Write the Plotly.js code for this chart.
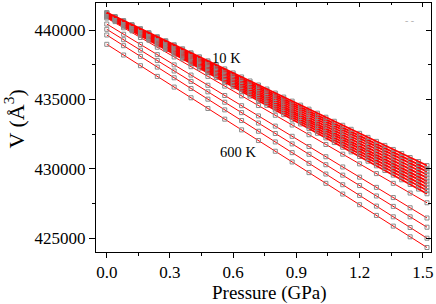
<!DOCTYPE html>
<html>
<head>
<meta charset="utf-8">
<script src="https://cdn.plot.ly/plotly-3.0.1.min.js"></script>
<style>html,body{margin:0;padding:0;background:#fff;}#chart{width:436px;height:304px;}</style>
</head>
<body>
<div id="chart"></div>
<script>
// Pressure grids (GPa)
var P_band = [0,0.04,0.08,0.12,0.16,0.20,0.24,0.28,0.32,0.36,0.40,0.44,0.48,0.52,0.56,0.60,0.64,0.68,0.72,0.76,0.80,0.84,0.88,0.92,0.96,1.00,1.04,1.08,1.12,1.16,1.20,1.24,1.28,1.32,1.36,1.40,1.44,1.48,1.52];
var P_sep = [0,0.08,0.16,0.24,0.32,0.40,0.48,0.56,0.64,0.72,0.80,0.88,0.96,1.04,1.12,1.20,1.28,1.36,1.44,1.52];

// Volumes (Å^3), low-temperature isotherms (dense band)
var V_10K  = [441260,440970,440680,440390,440100,439810,439520,439230,438940,438650,438360,438070,437780,437490,437200,436910,436620,436330,436040,435750,435460,435170,434880,434590,434300,434010,433720,433430,433140,432850,432560,432270,431980,431690,431400,431110,430820,430530,430240];
var V_40K  = [441230,440935,440640,440345,440050,439755,439460,439165,438870,438575,438280,437985,437690,437395,437100,436805,436510,436215,435920,435625,435330,435035,434740,434445,434150,433855,433560,433265,432970,432675,432380,432085,431790,431495,431200,430905,430610,430315,430020];
var V_70K  = [441200,440900,440600,440300,440000,439700,439400,439100,438800,438500,438200,437900,437600,437300,437000,436700,436400,436100,435800,435500,435200,434900,434600,434300,434000,433700,433400,433100,432800,432500,432200,431900,431600,431300,431000,430700,430400,430100,429800];
var V_100K = [441170,440865,440560,440255,439950,439645,439340,439035,438730,438425,438120,437815,437510,437205,436900,436595,436290,435985,435680,435375,435070,434765,434460,434155,433850,433545,433240,432935,432630,432325,432020,431715,431410,431105,430800,430495,430190,429885,429580];
var V_140K = [441130,440820,440510,440200,439890,439580,439270,438960,438650,438340,438030,437720,437410,437100,436790,436480,436170,435860,435550,435240,434930,434620,434310,434000,433690,433380,433070,432760,432450,432140,431830,431520,431210,430900,430590,430280,429970,429660,429350];
var V_180K = [441090,440775,440460,440145,439830,439515,439200,438885,438570,438255,437940,437625,437310,436995,436680,436365,436050,435735,435420,435105,434790,434475,434160,433845,433530,433215,432900,432585,432270,431955,431640,431325,431010,430695,430380,430065,429750,429435,429120];
var V_220K = [441060,440740,440420,440100,439780,439460,439140,438820,438500,438180,437860,437540,437220,436900,436580,436260,435940,435620,435300,434980,434660,434340,434020,433700,433380,433060,432740,432420,432100,431780,431460,431140,430820,430500,430180,429860,429540,429220,428900];
var V_260K = [441020,440695,440370,440045,439720,439395,439070,438745,438420,438095,437770,437445,437120,436795,436470,436145,435820,435495,435170,434845,434520,434195,433870,433545,433220,432895,432570,432245,431920,431595,431270,430945,430620,430295,429970,429645,429320,428995,428670];
var V_300K = [440980,440650,440320,439990,439660,439330,439000,438670,438340,438010,437680,437350,437020,436690,436360,436030,435700,435370,435040,434710,434380,434050,433720,433390,433060,432730,432400,432070,431740,431410,431080,430750,430420,430090,429760,429430,429100,428770,428440];
var V_350K = [440940,440605,440270,439935,439600,439265,438930,438595,438260,437925,437590,437255,436920,436585,436250,435915,435580,435245,434910,434575,434240,433905,433570,433235,432900,432565,432230,431895,431560,431225,430890,430555,430220,429885,429550,429215,428880,428545,428210];

// High-temperature isotherms (separated lines)
var V_400K = [440860,440160,439460,438760,438060,437360,436660,435960,435260,434560,433860,433160,432460,431760,431060,430360,429660,428960,428260,427560];
var V_450K = [440430,439695,438960,438225,437490,436755,436020,435285,434550,433815,433080,432345,431610,430875,430140,429405,428670,427935,427200,426465];
var V_500K = [440050,439300,438550,437800,437050,436300,435550,434800,434050,433300,432550,431800,431050,430300,429550,428800,428050,427300,426550,425800];
var V_550K = [439640,438870,438100,437330,436560,435790,435020,434250,433480,432710,431940,431170,430400,429630,428860,428090,427320,426550,425780,425010];
var V_600K = [438970,438200,437430,436660,435890,435120,434350,433580,432810,432040,431270,430500,429730,428960,428190,427420,426650,425880,425110,424340];

var bandSeries = [V_10K,V_40K,V_70K,V_100K,V_140K,V_180K,V_220K,V_260K,V_300K,V_350K];
var bandNames  = ['10 K','40 K','70 K','100 K','140 K','180 K','220 K','260 K','300 K','350 K'];
var sepSeries  = [V_400K,V_450K,V_500K,V_550K,V_600K];
var sepNames   = ['400 K','450 K','500 K','550 K','600 K'];

// Tick values / labels
var xTickVals = [0,0.3,0.6,0.9,1.2,1.5];
var xTickText = ['0.0','0.3','0.6','0.9','1.2','1.5'];
var xMinorVals = [0.15,0.45,0.75,1.05,1.35];
var yTickVals = [425000,430000,435000,440000];
var yTickText = ['425000','430000','435000','440000'];
var yMinorVals = [427500,432500,437500];

// Text labels
var xTitle = 'Pressure (GPa)';
var yTitle = 'V (Å<sup>3</sup>)';
var labelText = ['10 K','600 K'];
var labelP = [0.566,0.624];
var labelV = [437980,431250];

var traces = [];
var sepMarker = {symbol:'square-open', size:4, color:'#8a8a8a', line:{width:1, color:'#8a8a8a'}};
var bandMarker = {symbol:'square-open', size:4, color:'#8c8c8c', line:{width:1, color:'#8c8c8c'}};

sepSeries.forEach(function(v,i){
  traces.push({x:P_sep, y:v, mode:'lines', line:{color:'#ff0000', width:1}, name:sepNames[i], showlegend:false, hoverinfo:'skip'});
});
sepSeries.forEach(function(v,i){
  traces.push({x:P_sep, y:v, mode:'markers', marker:sepMarker, name:sepNames[i], showlegend:false, hoverinfo:'skip'});
});
// band: each isotherm drawn as markers then its line, so later lines cover earlier markers
for (var i = bandSeries.length - 1; i >= 0; i--) {
  traces.push({x:P_band, y:bandSeries[i], mode:'markers', marker:bandMarker, name:bandNames[i], showlegend:false, hoverinfo:'skip'});
  traces.push({x:P_band, y:bandSeries[i], mode:'lines', line:{color:'#ff0000', width:1.8}, name:bandNames[i], showlegend:false, hoverinfo:'skip'});
}
// invisible trace to host the mirror (top/right) axes
traces.push({x:P_band, y:V_10K, xaxis:'x2', yaxis:'y2', mode:'lines', opacity:0, showlegend:false, hoverinfo:'skip'});

var xr = [-0.051,1.539];
var yr = [424016,441944];
var fontFam = '"Liberation Serif","Times New Roman",Times,serif';

var layout = {
  width:436, height:304,
  margin:{l:96, r:5, t:3, b:52},
  paper_bgcolor:'#fff', plot_bgcolor:'#fff',
  font:{family:fontFam, color:'#000', size:17},
  showlegend:false,
  xaxis:{
    range:xr, tickmode:'array', tickvals:xTickVals, ticktext:xTickText,
    ticks:'outside', ticklen:5, tickwidth:1, tickcolor:'#000',
    minor:{tickmode:'array', tickvals:xMinorVals, ticks:'outside', ticklen:3, tickwidth:1, tickcolor:'#000'},
    showline:true, linecolor:'#000', linewidth:1, mirror:true,
    showgrid:false, zeroline:false,
    tickfont:{family:fontFam, size:17, color:'#000'}
  },
  yaxis:{
    range:yr, tickmode:'array', tickvals:yTickVals, ticktext:yTickText,
    ticks:'outside', ticklen:6, tickwidth:1, tickcolor:'#000',
    minor:{tickmode:'array', tickvals:yMinorVals, ticks:'outside', ticklen:3, tickwidth:1, tickcolor:'#000'},
    showline:true, linecolor:'#000', linewidth:1, mirror:true,
    showgrid:false, zeroline:false,
    tickfont:{family:fontFam, size:17, color:'#000'}
  },
  xaxis2:{
    range:xr, overlaying:'x', side:'top', tickmode:'array', tickvals:xTickVals,
    ticks:'inside', ticklen:4, tickwidth:1, tickcolor:'#000', showticklabels:false,
    minor:{tickmode:'array', tickvals:xMinorVals, ticks:'inside', ticklen:2, tickwidth:1, tickcolor:'#000'},
    showgrid:false, zeroline:false, showline:false
  },
  yaxis2:{
    range:yr, overlaying:'y', side:'right', tickmode:'array', tickvals:yTickVals,
    ticks:'inside', ticklen:5, tickwidth:1, tickcolor:'#000', showticklabels:false,
    minor:{tickmode:'array', tickvals:yMinorVals, ticks:'inside', ticklen:3, tickwidth:1, tickcolor:'#000'},
    showgrid:false, zeroline:false, showline:false
  },
  annotations:[
    {x:0.519, y:-0.163, xref:'paper', yref:'paper', xanchor:'center', yanchor:'middle', text:xTitle, showarrow:false, font:{family:fontFam, size:19, color:'#000'}},
    {x:-0.245, y:0.536, xref:'paper', yref:'paper', xanchor:'center', yanchor:'middle', textangle:-90, text:yTitle, showarrow:false, font:{family:fontFam, size:22, color:'#000'}},
    {x:labelP[0], y:labelV[0], xref:'x', yref:'y', text:labelText[0], showarrow:false, font:{family:fontFam, size:14.5, color:'#000'}},
    {x:labelP[1], y:labelV[1], xref:'x', yref:'y', text:labelText[1], showarrow:false, font:{family:fontFam, size:14.5, color:'#000'}},
    {x:0.955, y:0.96, xref:'paper', yref:'paper', text:'- -', showarrow:false, font:{family:fontFam, size:10, color:'#b0b0b0'}}
  ]
};

Plotly.newPlot('chart', traces, layout, {staticPlot:true, displayModeBar:false});
</script>
</body>
</html>
